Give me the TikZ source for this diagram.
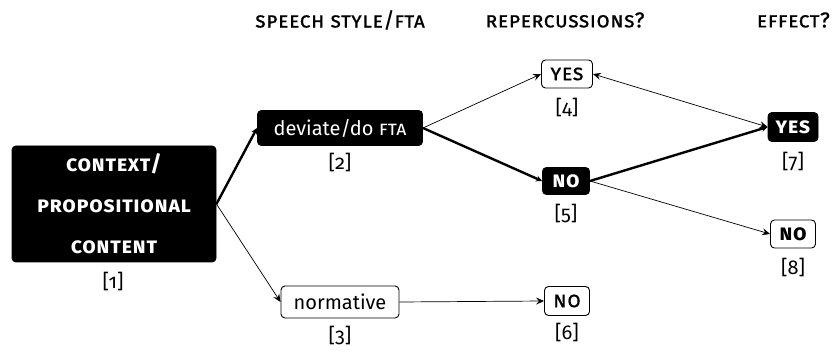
\documentclass[tikz,border=0pt]{standalone}
\usepackage{fontspec}
\setmainfont{Fira Sans}[Numbers=OldStyle]
\newfontfamily\scf{Fira Sans}[Letters=SmallCaps,LetterSpace=2,Numbers=OldStyle,FakeBold=0.6]
\newfontfamily\scb{Fira Sans}[Letters=SmallCaps,LetterSpace=3,Numbers=OldStyle]
\newfontfamily\scn{Fira Sans}[Letters=SmallCaps,Numbers=OldStyle]
\usetikzlibrary{arrows.meta}
\begin{document}
\begin{tikzpicture}[x=1pt,y=-1pt,
  font=\fontsize{20}{24}\selectfont,
  wbox/.style={draw, rounded corners=4pt, line width=0.9pt, inner sep=0pt, fill=white},
  bbox/.style={draw, fill=black, text=white, rounded corners=4pt, line width=0.9pt, inner sep=0pt},
  lab/.style={inner sep=0pt},
  head/.style={inner sep=0pt, font=\fontsize{21.5}{24}\selectfont\scf},
  boxsc/.style={font=\fontsize{22}{24}\selectfont\scf},
  boxscb/.style={font=\fontsize{22}{24}\selectfont\bfseries\scb},
  thin/.style={line width=0.7pt, -{Stealth[length=8pt,width=7pt,inset=3pt]}},
  thick/.style={line width=2.4pt, -{Stealth[length=6pt,width=6pt,inset=2pt]}},
  both/.style={line width=0.7pt, {Stealth[length=8pt,width=7pt,inset=3pt]}-{Stealth[length=8pt,width=7pt,inset=3pt]}}
]
\useasboundingbox (0,0) rectangle (832,352);
\node[head] (h1) at (340,20) {speech style/fta};
\node[head] (h2) at (565,20) {repercussions?};
\node[head, anchor=east] (h3) at (830,20) {effect?};

\node[bbox, minimum width=204pt, minimum height=116pt, align=center,
  font=\fontsize{22}{41}\selectfont\bfseries\scb] (n1) at (114,204)
  {context/\\propositional\\content};
\node[bbox, minimum width=165pt, minimum height=35pt] (n2) at (340,128) {deviate/do {\scn fta}};
\node[wbox, minimum width=118pt, minimum height=32pt] (n3) at (340,302) {normative};
\node[wbox, boxsc, minimum width=51pt, minimum height=28pt] (n4) at (567,74) {yes};
\node[bbox, boxscb, minimum width=47pt, minimum height=27pt] (n5) at (566,181) {no};
\node[wbox, boxsc, minimum width=45pt, minimum height=29pt] (n6) at (567,301) {no};
\node[bbox, boxscb, minimum width=50pt, minimum height=29pt] (n7) at (793,127) {yes};
\node[wbox, boxscb, minimum width=45pt, minimum height=28pt] (n8) at (793,234) {no};

\node[lab] (l1) at (113,282) {[1]};
\node[lab] (l2) at (340,163) {[2]};
\node[lab] (l3) at (340,336) {[3]};
\node[lab] (l4) at (567,108) {[4]};
\node[lab] (l5) at (566,214) {[5]};
\node[lab] (l6) at (567,332) {[6]};
\node[lab] (l7) at (793,162) {[7]};
\node[lab] (l8) at (793,268) {[8]};

\draw[thick] (n1.east) -- (n2.west);
\draw[thin] (n1.east) -- (n3.west);
\draw[thin] (n2.east) -- (n4.west);
\draw[thick] (n2.east) -- (n5.west);
\draw[both] (n4.east) -- (n7.west);
\draw[thick] (n5.east) -- (n7.west);
\draw[thin] (n5.east) -- (n8.west);
\draw[thin] (n3.east) -- (n6.west);
\end{tikzpicture}
\end{document}
